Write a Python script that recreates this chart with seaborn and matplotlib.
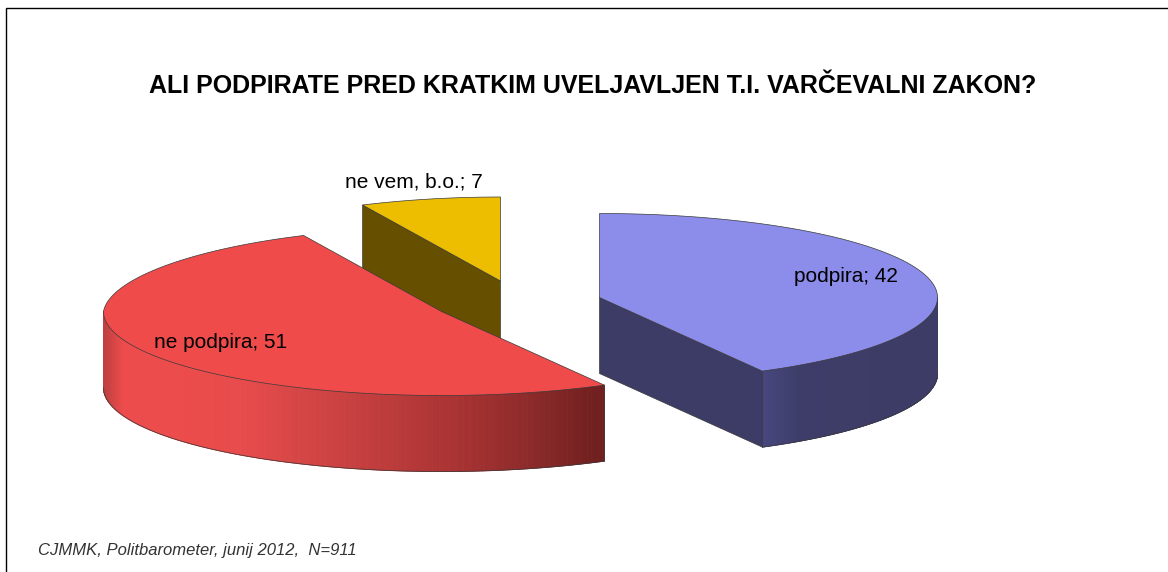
import numpy as np
import matplotlib
matplotlib.use("Agg")
import matplotlib.pyplot as plt
from matplotlib.colors import to_rgb
from matplotlib.patches import Polygon
from matplotlib.collections import PolyCollection
import seaborn as sns

categories = ["podpira", "ne podpira", "ne vem, b.o."]
values = [42, 51, 7]
title = "ALI PODPIRATE PRED KRATKIM UVELJAVLJEN T.I. VARČEVALNI ZAKON?"
source = "CJMMK, Politbarometer, junij 2012,  N=911"

sns.set_theme(style="white")
plt.rcParams["font.family"] = ["Liberation Sans", "DejaVu Sans"]

fig = plt.figure(figsize=(11.68, 5.72), dpi=100, facecolor="white")
ax = fig.add_axes([0, 0, 1, 1])
ax.set_xlim(0, 1168)
ax.set_ylim(572, 0)
ax.axis("off")

RX, RY, DEPTH = 338.0, 84.0, 76.0
EDGE = "#3a3a3a"
centers = {"podpira": (599.5, 297.5), "ne podpira": (441.5, 311.5), "ne vem, b.o.": (500.5, 281.0)}
tops = {"podpira": "#8c8ceb", "ne podpira": "#ef4b4b", "ne vem, b.o.": "#edbe00"}
cuts = {"podpira": "#3d3c66", "ne podpira": "#7a2020", "ne vem, b.o.": "#665000"}
squeeze = {"podpira": 0.0, "ne podpira": 0.00055, "ne vem, b.o.": 0.00055}

# slices run clockwise from twelve o'clock
fractions = np.array(values, float) / np.sum(values)
ends = 90 - 360 * np.cumsum(fractions)
starts = np.r_[90.0, ends[:-1]]


def rim(name, a0, a1, n=240):
    """Points of the tilted circle between two angles, in figure pixels."""
    t = np.radians(np.linspace(a0, a1, n))
    x = RX * np.cos(t)
    y = -RY * np.sin(t)
    k = squeeze[name]
    x = np.where((x < 0) & (y < 0), x * (1 + k * y), x)
    cx, cy = centers[name]
    return np.c_[cx + x, cy + y]


def side(name, a0, a1, stops, z):
    pts = rim(name, a0, a1, 400)
    quads, cols = [], []
    xs, cs = zip(*[(s[0], to_rgb(s[1])) for s in stops])
    cs = np.array(cs)
    for p, q in zip(pts[:-1], pts[1:]):
        quads.append([p, q, q + [0, DEPTH], p + [0, DEPTH]])
        xm = (p[0] + q[0]) / 2
        cols.append([np.interp(xm, xs, cs[:, i]) for i in range(3)])
    ax.add_collection(PolyCollection(quads, facecolors=cols, edgecolors=cols, linewidths=0.7, zorder=z))
    ax.plot(pts[:, 0], pts[:, 1] + DEPTH, color=EDGE, lw=0.5, zorder=z + 0.1)
    ax.plot(pts[[0, 0], 0], [pts[0, 1], pts[0, 1] + DEPTH], color=EDGE, lw=0.5, zorder=z + 0.1)


def cut(name, angle, z):
    c = np.array(centers[name])
    e = rim(name, angle, angle, 2)[0]
    ax.add_patch(Polygon([c, e, e + [0, DEPTH], c + [0, DEPTH]], closed=True,
                         facecolor=cuts[name], edgecolor=EDGE, lw=0.5, zorder=z))


def top(name, a0, a1, z):
    ax.add_patch(Polygon(np.vstack([centers[name], rim(name, a0, a1)]), closed=True,
                         facecolor=tops[name], edgecolor=EDGE, lw=0.5, zorder=z))


s = dict(zip(categories, starts))
e = dict(zip(categories, ends))

# don't know (rear slice)
cut("ne vem, b.o.", s["ne vem, b.o."], 1)
top("ne vem, b.o.", s["ne vem, b.o."], e["ne vem, b.o."], 2)

# support
cut("podpira", e["podpira"], 3)
side("podpira", e["podpira"], 0,
     [(761, "#484880"), (800, "#3e3d69"), (940, "#3d3c66")], 4)
top("podpira", s["podpira"], e["podpira"], 5)

# do not support
side("ne podpira", s["ne podpira"], -180,
     [(104, "#c04040"), (123, "#ee4c4c"), (240, "#e84b4b"), (290, "#d84646"), (350, "#c84040"),
      (460, "#a83232"), (530, "#8c2a2a"), (602, "#6f1e1e")], 6)
top("ne podpira", s["ne podpira"], e["ne podpira"], 7)

# frame
ax.plot([1168, 6, 6], [8, 8, 572], color="black", lw=1.0, zorder=8, solid_joinstyle="miter")

ax.text(592.5, 86, title, ha="center", va="center", fontsize=18, fontweight="bold", color="black")
label_xy = [(845.5, 277), (221, 343), (414, 182)]
for cat, val, (lx, ly) in zip(categories, values, label_xy):
    ax.text(lx, ly, f"{cat}; {val}", ha="center", va="center", fontsize=15, color="black", zorder=9)
ax.text(38, 550, source, ha="left", va="center", fontsize=12, style="italic", color="#333333")

fig.savefig("out.png", dpi=100)
